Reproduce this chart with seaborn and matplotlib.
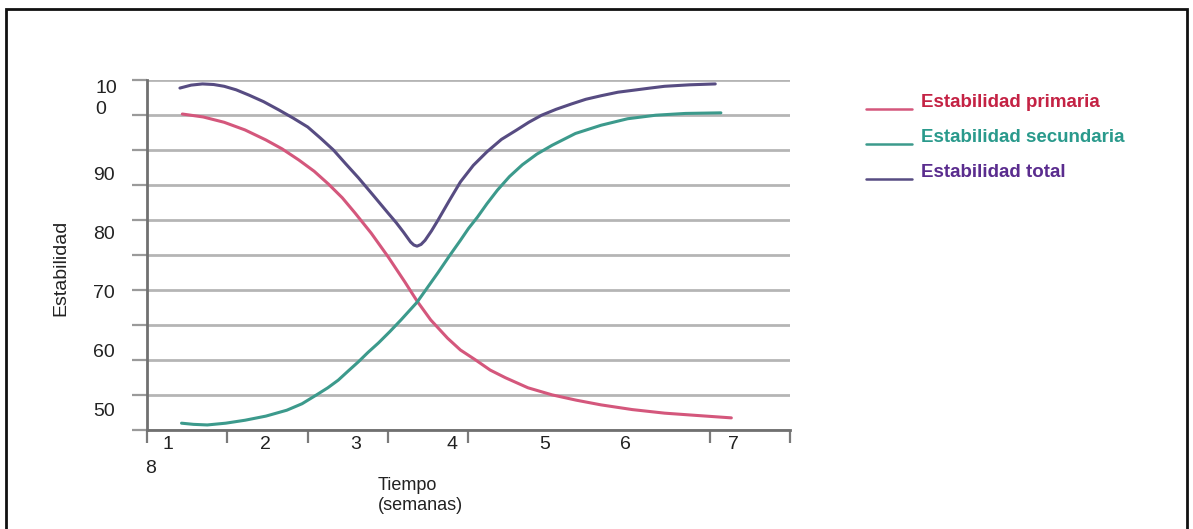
import numpy as np
import pandas as pd
import seaborn as sns
import matplotlib.pyplot as plt
from matplotlib.patches import Rectangle

# readings from the picture (x in axis divisions, y in "Estabilidad" units)
x_primaria = [0.44, 0.70, 0.96, 1.22, 1.48, 1.68, 1.89, 2.08, 2.26, 2.43, 2.59, 2.79, 3.00, 3.21, 3.36,
              3.53, 3.74, 3.90, 4.09, 4.27, 4.46, 4.74, 5.04, 5.34, 5.65, 6.04, 6.44, 6.85, 7.27]
y_primaria = [100.0, 99.5, 98.6, 97.3, 95.6, 94.1, 92.2, 90.3, 88.1, 85.8, 83.2, 79.8, 75.8, 71.5, 68.3,
              65.1, 62.0, 60.0, 58.3, 56.6, 55.3, 53.6, 52.4, 51.5, 50.7, 49.9, 49.3, 48.9, 48.5]

x_secundaria = [0.43, 0.58, 0.75, 0.98, 1.22, 1.48, 1.74, 1.93, 2.11, 2.25, 2.38, 2.50, 2.63, 2.75, 2.88,
                3.02, 3.16, 3.36, 3.49, 3.62, 3.76, 3.90, 4.00, 4.11, 4.23, 4.36, 4.51, 4.67, 4.85,
                5.04, 5.33, 5.65, 5.98, 6.33, 6.70, 7.14]
y_secundaria = [47.6, 47.4, 47.3, 47.6, 48.1, 48.8, 49.8, 50.9, 52.4, 53.6, 54.9, 56.4, 58.0, 59.6, 61.2,
                63.1, 65.1, 68.1, 70.6, 73.1, 75.9, 78.6, 80.6, 82.5, 84.8, 87.1, 89.4, 91.4, 93.2,
                94.7, 96.7, 98.1, 99.2, 99.8, 100.1, 100.2]

x_total = [0.41, 0.55, 0.69, 0.83, 0.96, 1.11, 1.27, 1.45, 1.64, 1.82, 2.00, 2.16, 2.32, 2.47, 2.63,
           2.81, 3.00, 3.10, 3.19, 3.28, 3.32, 3.36, 3.41, 3.46, 3.54, 3.62, 3.76, 3.90, 4.06, 4.23,
           4.41, 4.60, 4.75, 4.91, 5.09, 5.28, 5.46, 5.65, 5.86, 6.09, 6.26, 6.44, 6.75, 7.07]
y_total = [104.4, 104.9, 105.1, 105.0, 104.7, 104.1, 103.2, 102.1, 100.7, 99.3, 97.8, 95.9, 93.9, 91.6, 89.2,
           86.3, 83.2, 81.6, 80.0, 78.3, 77.8, 77.6, 77.9, 78.6, 80.2, 82.0, 85.3, 88.5, 91.3, 93.6,
           95.7, 97.3, 98.6, 99.8, 100.8, 101.7, 102.5, 103.1, 103.7, 104.1, 104.4, 104.7, 104.95, 105.1]

series = ["Estabilidad primaria", "Estabilidad secundaria", "Estabilidad total"]
y_labels = ["50", "60", "70", "80", "90"]
y_label_vals = [50, 60, 70, 80, 90]
x_labels = ["1", "2", "3", "4", "5", "6", "7"]
x_label_pos = [0.26, 1.47, 2.59, 3.80, 4.95, 5.95, 7.30]
x_marks = [0, 1, 2, 3, 4, 7, 8]

line_colors = ["#d4577c", "#3c9a8c", "#574c82"]
text_colors = ["#c42244", "#2a9a8c", "#5a2c8e"]

df = pd.concat([
    pd.DataFrame({"x": x_primaria, "y": y_primaria, "serie": series[0]}),
    pd.DataFrame({"x": x_secundaria, "y": y_secundaria, "serie": series[1]}),
    pd.DataFrame({"x": x_total, "y": y_total, "serie": series[2]}),
])

sns.set_theme(style="white")
plt.rcParams["font.family"] = ["Liberation Sans", "DejaVu Sans"]

fig = plt.figure(figsize=(11.93, 5.29), dpi=100)
ax = fig.add_axes([0.1232, 0.1871, 0.5390, 0.6616])

sns.lineplot(data=df, x="x", y="y", hue="serie", palette=line_colors,
             estimator=None, linewidth=2.2, ax=ax)
for ln in ax.get_lines():
    ln.set_solid_joinstyle("round")
    ln.set_solid_capstyle("round")

ymin, ymax = 46.44, 105.76
ax.set_xlim(0, 8)
ax.set_ylim(ymin, ymax)

# grid lines on minor ticks, labels on major ticks
ax.set_yticks(np.linspace(ymin, ymax, 11), minor=True)
ax.set_yticks(y_label_vals)
ax.set_yticklabels(y_labels, ha="left")
ax.tick_params(axis="y", which="major", length=0, pad=39, labelsize=14, labelcolor="#222222")
ax.tick_params(axis="y", which="minor", left=True, length=11, width=1.6, color="#9a9a9a", direction="out")
ax.yaxis.grid(True, which="minor", color="#b5b5b5", linewidth=2)

ax.set_xticks(x_marks, minor=True)
ax.set_xticks(x_label_pos)
ax.set_xticklabels(x_labels)
ax.tick_params(axis="x", which="major", length=0, pad=4, labelsize=14, labelcolor="#222222")
ax.tick_params(axis="x", which="minor", bottom=True, length=9, width=1.6, color="#7a7a7a", direction="out")

for side in ["top", "right"]:
    ax.spines[side].set_visible(False)
for side in ["left", "bottom"]:
    ax.spines[side].set_color("#707070")
    ax.spines[side].set_linewidth(2)

ax.text(-0.64, 100, "10\n0", ha="left", va="baseline", fontsize=14,
        color="#222222", linespacing=1.3)
ax.text(0.04, ymin - 6.5, "8", ha="center", va="center", fontsize=14, color="#222222")

ax.set_ylabel("Estabilidad", fontsize=14, color="#222222")
ax.yaxis.set_label_coords(-0.121, 0.463)
ax.set_xlabel("Tiempo\n(semanas)", fontsize=13, color="#222222", ha="left", linespacing=1.3)
ax.xaxis.set_label_coords(0.359, -0.133)

leg = ax.legend(loc="upper left", bbox_to_anchor=(0.7262, 0.822), bbox_transform=fig.transFigure,
                frameon=False, fontsize=13.5, handlelength=2.45, handletextpad=0.45,
                labelspacing=0.95, borderpad=0, borderaxespad=0)
for txt, c in zip(leg.get_texts(), text_colors):
    txt.set_color(c)
    txt.set_fontweight("bold")
# handles sit on the text baseline, like underscores
for h in leg.get_lines():
    h.set_linewidth(1.8)
    h.set_ydata(np.asarray(h.get_ydata()) - 6)

fig.patches.append(Rectangle((0.005, -0.1), 0.99, 1.083, transform=fig.transFigure,
                             fill=False, edgecolor="#111111", linewidth=2))

fig.savefig("out.png", dpi=100)
